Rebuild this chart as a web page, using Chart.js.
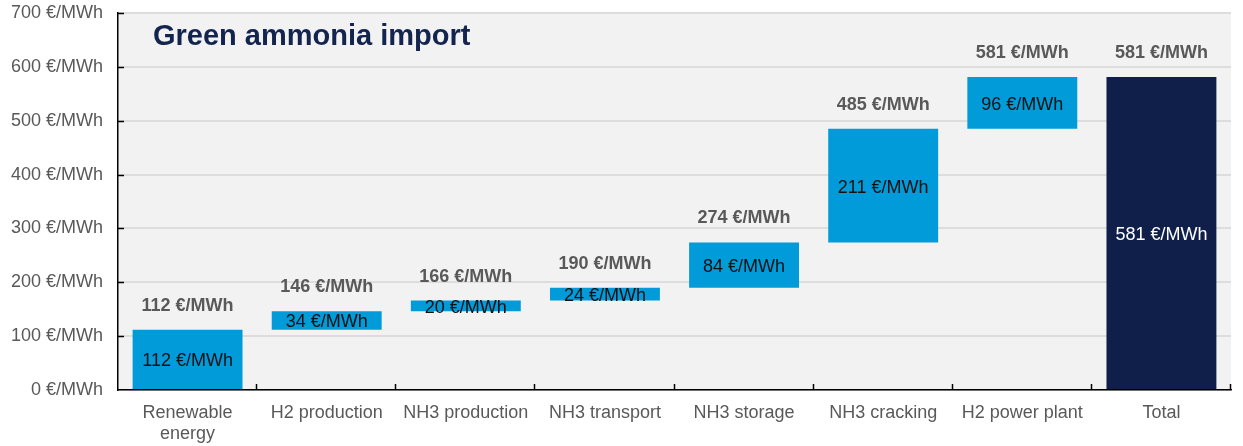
<!DOCTYPE html>
<html>
<head>
<meta charset="utf-8">
<script src="https://cdn.jsdelivr.net/npm/chart.js@4"></script>
<style>
  html, body { margin: 0; padding: 0; background: #ffffff; }
  #wrap { position: relative; width: 1243px; height: 446px; overflow: hidden; }
  canvas { display: block; }
</style>
</head>
<body>
<div id="wrap"><canvas id="c" width="1243" height="446"></canvas></div>
<script>
// ---- data ----
const categories = [['Renewable', 'energy'], 'H2 production', 'NH3 production', 'NH3 transport', 'NH3 storage', 'NH3 cracking', 'H2 power plant', 'Total'];
const barStart = [0, 112, 146, 166, 190, 274, 485, 0];
const barEnd = [112, 146, 166, 190, 274, 485, 581, 581];
const stepLabels = [112, 34, 20, 24, 84, 211, 96, 581];
const topLabels = [112, 146, 166, 190, 274, 485, 581, 581];
const yTicks = [0, 100, 200, 300, 400, 500, 600, 700];
const unit = ' €/MWh';
const titleText = 'Green ammonia import';

const LIGHT = '#009bd8';
const NAVY = '#0f1f4a';
const FONT = '"Liberation Sans", Arial, Helvetica, sans-serif';

const barColors = categories.map((c, i) => i === categories.length - 1 ? NAVY : LIGHT);

const plotBg = {
  id: 'plotBg',
  beforeDraw(chart) {
    const { ctx, chartArea: a } = chart;
    ctx.save();
    ctx.fillStyle = '#f2f2f2';
    ctx.fillRect(a.left, a.top, a.right - a.left, a.bottom - a.top);
    ctx.restore();
  }
};

const extras = {
  id: 'extras',
  afterDraw(chart) {
    const { ctx, chartArea: a } = chart;
    const y = chart.scales.y;
    const x = chart.scales.x;
    ctx.save();
    ctx.strokeStyle = '#000';
    ctx.lineWidth = 1.5;
    yTicks.forEach(v => {
      if (v === 0) return;
      const py = Math.round(y.getPixelForValue(v)) + 0.5;
      ctx.beginPath();
      ctx.moveTo(a.left, py);
      ctx.lineTo(a.left + 6, py);
      ctx.stroke();
    });
    const n = categories.length;
    for (let i = 1; i <= n; i++) {
      let px;
      if (i === n) px = a.right;
      else px = (x.getPixelForValue(i - 1) + x.getPixelForValue(i)) / 2;
      px = Math.round(px) - 0.5;
      ctx.beginPath();
      ctx.moveTo(px, a.bottom);
      ctx.lineTo(px, a.bottom - 6);
      ctx.stroke();
    }
    const meta = chart.getDatasetMeta(0);
    meta.data.forEach((bar, i) => {
      const top = Math.min(bar.y, bar.base);
      const bot = Math.max(bar.y, bar.base);
      const cx = bar.x;
      ctx.font = 'bold 18px ' + FONT;
      ctx.fillStyle = '#595959';
      ctx.textAlign = 'center';
      ctx.textBaseline = 'middle';
      ctx.fillText(topLabels[i] + unit, cx, top - 24);
      ctx.font = '18px ' + FONT;
      ctx.fillStyle = i === categories.length - 1 ? '#ffffff' : '#111111';
      ctx.fillText(stepLabels[i] + unit, cx, (top + bot) / 2 + 2);
    });
    ctx.font = 'bold 29px ' + FONT;
    ctx.fillStyle = '#13244f';
    ctx.textAlign = 'left';
    ctx.textBaseline = 'alphabetic';
    ctx.fillText(titleText, a.left + 35, 45);
    ctx.restore();
  }
};

new Chart(document.getElementById('c'), {
  type: 'bar',
  data: {
    labels: categories,
    datasets: [{
      data: barStart.map((s, i) => [s, barEnd[i]]),
      backgroundColor: barColors,
      borderWidth: 0,
      barPercentage: 0.79,
      categoryPercentage: 1.0,
      borderSkipped: false
    }]
  },
  options: {
    responsive: false,
    animation: false,
    devicePixelRatio: 1,
    layout: { padding: { top: 13, right: 12, left: 0, bottom: 0 } },
    plugins: { legend: { display: false }, tooltip: { enabled: false }, title: { display: false } },
    scales: {
      x: {
        offset: true,
        grid: { display: false, drawTicks: false },
        border: { display: true, color: '#000', width: 1.5 },
        ticks: { color: '#595959', font: { family: FONT, size: 18 }, padding: 12, maxRotation: 0, autoSkip: false },
        afterFit(s) { s.height = 56; s.paddingLeft = 0; s.paddingRight = 0; }
      },
      y: {
        min: 0, max: 700,
        afterBuildTicks(s) { s.ticks = yTicks.map(v => ({ value: v })); },
        grid: { color: '#dddddd', lineWidth: 2, drawTicks: false },
        border: { display: true, color: '#000', width: 1.5 },
        ticks: { color: '#595959', font: { family: FONT, size: 18 }, padding: 15, callback: v => v + unit },
        afterFit(s) { s.width = 118; s.paddingTop = 0; s.paddingBottom = 0; }
      }
    }
  },
  plugins: [plotBg, extras]
});
</script>
</body>
</html>
